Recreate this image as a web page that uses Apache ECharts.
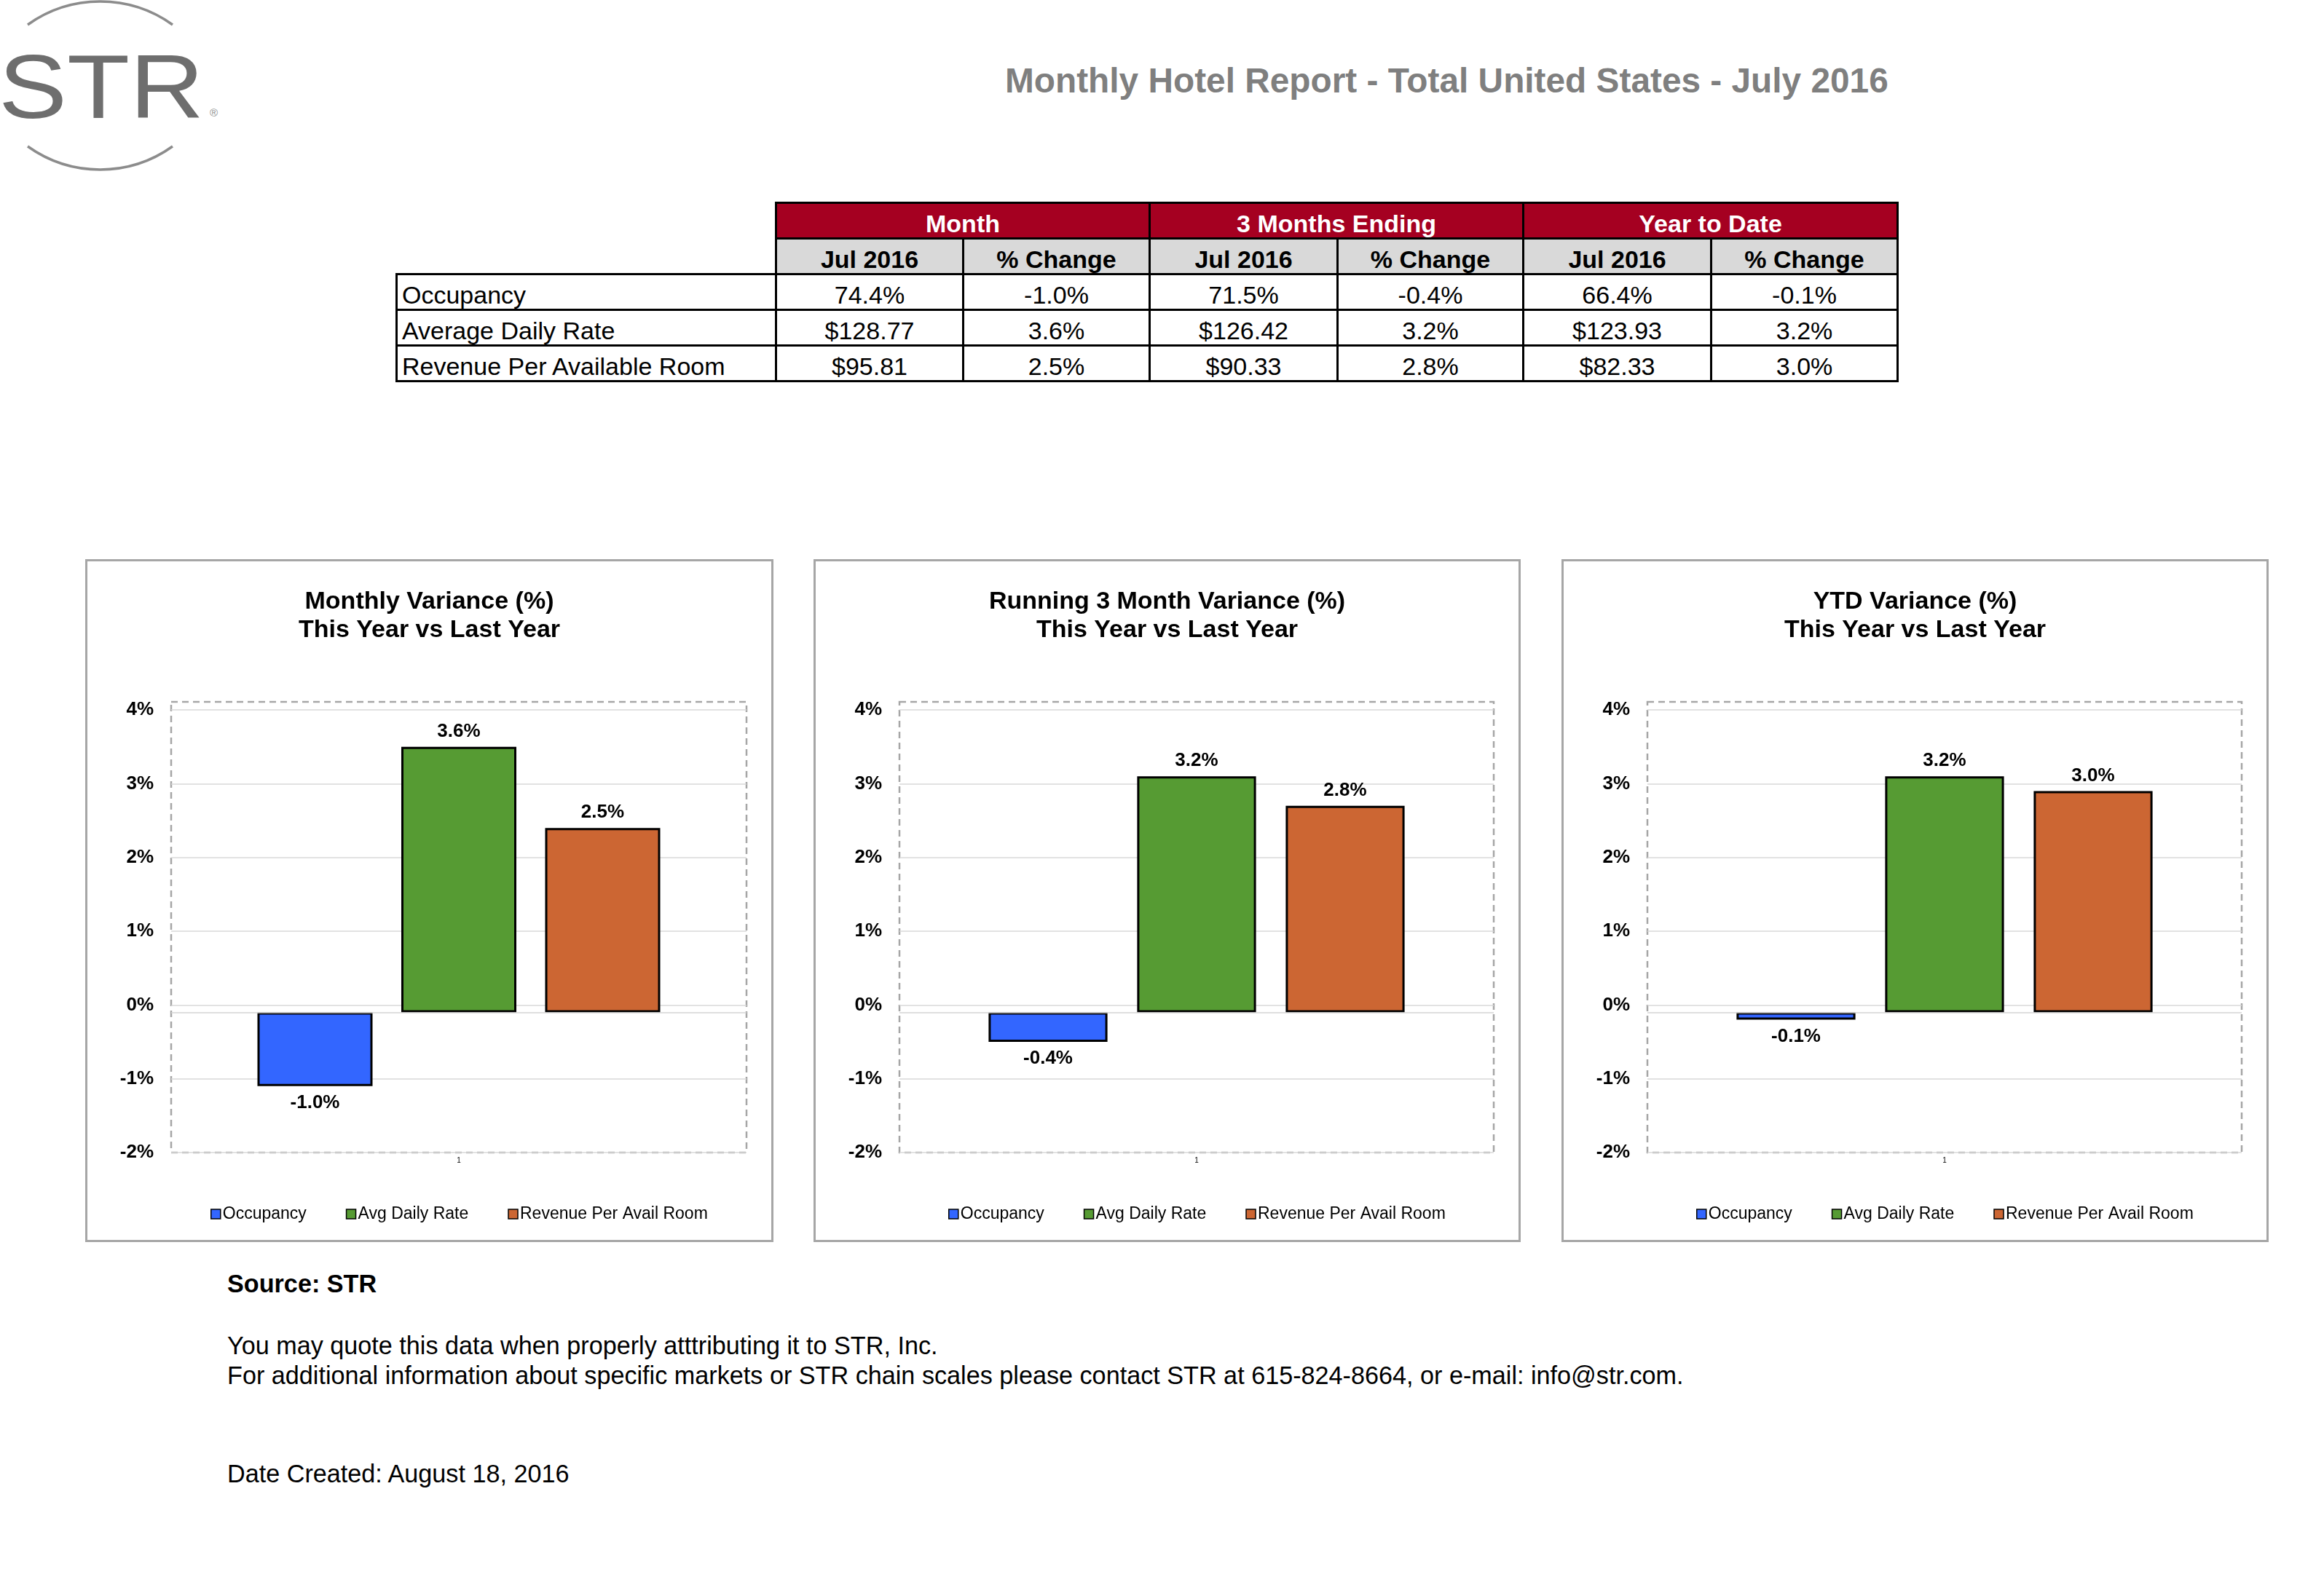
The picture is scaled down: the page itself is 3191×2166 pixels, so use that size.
<!DOCTYPE html>
<html>
<head>
<meta charset="utf-8">
<script src="https://cdn.jsdelivr.net/npm/echarts@6/dist/echarts.min.js"></script>
<style>
html,body{margin:0;padding:0;background:#fff;}
body{width:3191px;height:2166px;position:relative;overflow:hidden;font-family:"Liberation Sans",Arial,Helvetica,sans-serif;color:#000;}
.abs{position:absolute;}
#title{left:1380px;top:83px;font-size:47.8px;line-height:56px;font-weight:bold;color:#7f7f7f;white-space:nowrap;}
#tbl{position:absolute;left:543px;top:277px;border-collapse:collapse;table-layout:fixed;width:2061px;}
#tbl td{border:3px solid #000;font-size:34px;line-height:38px;padding:0 6px;text-align:center;vertical-align:bottom;white-space:nowrap;overflow:hidden;}
#tbl tr{height:49px;}
#tbl td.grp{background:#a50021;color:#fff;font-weight:bold;}
#tbl td.sub{background:#d9d9d9;font-weight:bold;}
#tbl td.lbl{text-align:left;}
#tbl td.blank{border:none;}
.panel{position:absolute;border:3px solid #a6a6a6;box-sizing:border-box;background:#fff;}
.panel .c{position:absolute;left:0;top:0;right:0;bottom:0;}
.foot{position:absolute;left:312px;font-size:34.2px;line-height:40px;white-space:nowrap;}
</style>
</head>
<body>
<svg class="abs" style="left:0;top:0" width="330" height="245">
  <path d="M38,34 A171,171 0 0 1 237,34" fill="none" stroke="#8c8c8c" stroke-width="3.5"/>
  <path d="M38,201 A171,171 0 0 0 237,201" fill="none" stroke="#8c8c8c" stroke-width="3.5"/>
  <text x="-2" y="162" font-size="125" fill="#6e6e6e" textLength="282" lengthAdjust="spacingAndGlyphs" font-family="Liberation Sans, Arial, sans-serif">STR</text>
  <text x="288" y="160" font-size="15" fill="#8c8c8c" font-family="Liberation Sans, Arial, sans-serif">®</text>
</svg>
<div id="title" class="abs">Monthly Hotel Report - Total United States - July 2016</div>
<table id="tbl"></table>

<div class="panel" style="left:117px;top:768px;width:945px;height:938px;"><div class="c" id="c1"></div></div>
<div class="panel" style="left:1117px;top:768px;width:971px;height:938px;"><div class="c" id="c2"></div></div>
<div class="panel" style="left:2144px;top:768px;width:971px;height:938px;"><div class="c" id="c3"></div></div>

<div class="foot" style="top:1743px;font-weight:bold;">Source: STR</div>
<div class="foot" style="top:1828px;">You may quote this data when properly atttributing it to STR, Inc.</div>
<div class="foot" style="top:1869px;">For additional information about specific markets or STR chain scales please contact STR at 615-824-8664, or e-mail: info@str.com.</div>
<div class="foot" style="top:2004px;">Date Created: August 18, 2016</div>

<script>
// ---------- Table data ----------
const tableGroups = ['Month', '3 Months Ending', 'Year to Date'];
const tableSubHeads = ['Jul 2016', '% Change'];
const tableRowLabels = ['Occupancy', 'Average Daily Rate', 'Revenue Per Available Room'];
const occupancyLevels = ['74.4%', '71.5%', '66.4%'];
const occupancyChanges = ['-1.0%', '-0.4%', '-0.1%'];
const adrLevels = ['$128.77', '$126.42', '$123.93'];
const adrChanges = ['3.6%', '3.2%', '3.2%'];
const revparLevels = ['$95.81', '$90.33', '$82.33'];
const revparChanges = ['2.5%', '2.8%', '3.0%'];

// ---------- Chart data ----------
const metricNames = ['Occupancy', 'Avg Daily Rate', 'Revenue Per Avail Room'];
const xCategories = ['1'];
const monthlyVariance = [-1.0, 3.6, 2.5];
const threeMonthVariance = [-0.4, 3.2, 2.8];
const ytdVariance = [-0.1, 3.2, 3.0];
const chartTitles = [
  'Monthly Variance (%)\nThis Year vs Last Year',
  'Running 3 Month Variance (%)\nThis Year vs Last Year',
  'YTD Variance (%)\nThis Year vs Last Year'
];

// ---------- Build table ----------
(function buildTable() {
  const t = document.getElementById('tbl');
  const colW = [521, 257, 256, 258, 255, 258, 256];
  let html = '<colgroup>' + colW.map(w => '<col style="width:' + w + 'px">').join('') + '</colgroup>';
  html += '<tr><td class="blank" rowspan="2"></td>' + tableGroups.map(g => '<td class="grp" colspan="2">' + g + '</td>').join('') + '</tr>';
  html += '<tr>' + tableGroups.map(() => tableSubHeads.map(s => '<td class="sub">' + s + '</td>').join('')).join('') + '</tr>';
  const rows = [[occupancyLevels, occupancyChanges], [adrLevels, adrChanges], [revparLevels, revparChanges]];
  rows.forEach((r, i) => {
    html += '<tr><td class="lbl">' + tableRowLabels[i] + '</td>';
    for (let k = 0; k < 3; k++) html += '<td>' + r[0][k] + '</td><td>' + r[1][k] + '</td>';
    html += '</tr>';
  });
  t.innerHTML = html;
})();

// ---------- Charts ----------
const metricColors = ['#3366ff', '#569b33', '#cc6633'];
const BAR_BASE = -0.1;   // Excel-style floor the bars rise from in the original
const FONT = '"Liberation Sans", Arial, Helvetica, sans-serif';

function buildChart(id, titleText, values) {
  const el = document.getElementById(id);
  const chart = echarts.init(el);
  const W = chart.getWidth(), H = chart.getHeight();
  const G = { left: 115, right: 34, top: 204, bottom: 120 };
  const gridCx = G.left + (W - G.left - G.right) / 2;
  const series = [];
  values.forEach((v, i) => {
    const stack = 's' + i;
    const base = {
      type: 'bar', name: '_base' + i, stack: stack, stackStrategy: 'all',
      data: [BAR_BASE], silent: true,
      barGap: '25%', barCategoryGap: '30%',
      itemStyle: { color: 'rgba(0,0,0,0)', borderWidth: 0 },
      label: { show: false }
    };
    if (i === 0) {
      base.markLine = {
        silent: true, symbol: ['none', 'none'], label: { show: false },
        lineStyle: { color: '#d4d4d4', width: 1.5, type: 'solid' },
        data: [{ yAxis: BAR_BASE }]
      };
    }
    series.push(base);
    series.push({
      type: 'bar', name: metricNames[i], stack: stack, stackStrategy: 'all',
      barGap: '25%', barCategoryGap: '30%',
      data: [{ value: v, label: { position: v < 0 ? 'bottom' : 'top', distance: v < 0 ? 10 : 8 } }],
      itemStyle: { color: metricColors[i], borderColor: '#000', borderWidth: 3 },
      label: {
        show: true, fontSize: 26, fontWeight: 'bold', color: '#000', fontFamily: FONT,
        formatter: p => Number(p.value).toFixed(1) + '%'
      }
    });
  });
  chart.setOption({
    animation: false,
    textStyle: { fontFamily: FONT },
    title: {
      text: titleText, left: 'center', top: 31,
      textStyle: { fontSize: 34, fontWeight: 'bold', color: '#000', lineHeight: 39, fontFamily: FONT }
    },
    legend: {
      data: metricNames, left: gridCx - 346, top: 880,
      itemWidth: 13, itemHeight: 13, itemGap: 54, icon: 'rect',
      itemStyle: { borderColor: '#000', borderWidth: 1.5 },
      textStyle: { fontSize: 23, color: '#000', fontFamily: FONT, padding: [0, 0, 0, -2] }
    },
    grid: { left: G.left, right: G.right, top: G.top, bottom: G.bottom, containLabel: false },
    xAxis: {
      type: 'category', data: xCategories,
      axisLine: { show: false, onZero: false }, axisTick: { show: false },
      axisLabel: { fontSize: 10, color: '#000', margin: 6 }
    },
    yAxis: {
      type: 'value', min: -2, max: 4, interval: 1,
      axisLine: { show: false }, axisTick: { show: false },
      axisLabel: { formatter: '{value}%', fontSize: 26, fontWeight: 'bold', color: '#000', margin: 24, fontFamily: FONT },
      splitLine: { lineStyle: { color: '#d9d9d9', width: 1.5 } }
    },
    graphic: [{
      type: 'rect', silent: true, z: 0,
      shape: { x: G.left, y: G.top - 11, width: W - G.left - G.right, height: H - G.top - G.bottom + 11 },
      style: { fill: 'none', stroke: '#a6a6a6', lineWidth: 2.5, lineDash: [9, 6] }
    }],
    series: series
  });
}

buildChart('c1', chartTitles[0], monthlyVariance);
buildChart('c2', chartTitles[1], threeMonthVariance);
buildChart('c3', chartTitles[2], ytdVariance);
</script>
</body>
</html>
